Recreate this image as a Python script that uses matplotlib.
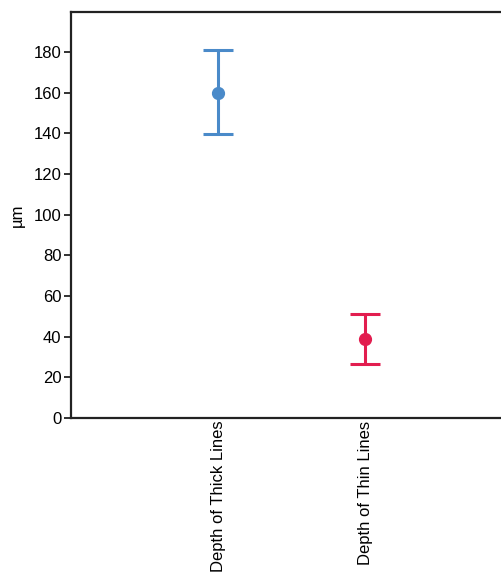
import matplotlib
matplotlib.use("Agg")
import matplotlib.pyplot as plt

# ── Data ──────────────────────────────────────────────────────────────────────
categories = ["Depth of Thick Lines", "Depth of Thin Lines"]
means = [160, 39]
lower = [139.5, 26.8]
upper = [181, 51]
colors = ["#4a8ac9", "#e21d4f"]

yticks = list(range(0, 181, 20))

plt.rcParams["font.family"] = ["Liberation Sans", "DejaVu Sans"]

fig = plt.figure(figsize=(5.02, 5.73), dpi=100)
ax = fig.add_axes([71 / 502, 1 - 418 / 573, 1 - 71 / 502, (418 - 12) / 573])

for i, (m, lo, hi, c) in enumerate(zip(means, lower, upper, colors)):
    ax.errorbar(
        i, m, yerr=[[m - lo], [hi - m]],
        fmt="o", color=c, ecolor=c, markersize=8.5,
        elinewidth=2.2, capsize=11, capthick=2.2,
    )

ax.set_xlim(-1.0, 1.93)
ax.set_ylim(0, 199.7)
ax.set_yticks(yticks)
ax.set_xticks(range(len(categories)))
ax.set_xticklabels(categories, rotation=90, fontsize=12)
ax.tick_params(axis="x", length=0, pad=2)
ax.tick_params(axis="y", length=5, width=1.3, labelsize=12, pad=2, color="#222222")
ax.set_ylabel("µm", fontsize=12, labelpad=6)

for side in ("left", "bottom", "top"):
    ax.spines[side].set_linewidth(1.6)
    ax.spines[side].set_color("#222222")
ax.spines["right"].set_visible(False)

fig.savefig("out.png", dpi=100)
